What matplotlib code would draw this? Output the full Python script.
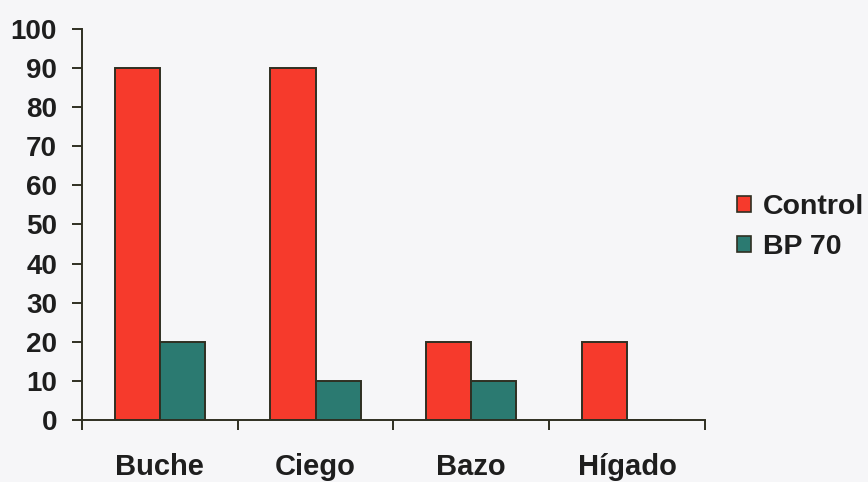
import numpy as np
import matplotlib.pyplot as plt
from matplotlib.patches import Patch

# datos
categorias = ['Buche', 'Ciego', 'Bazo', 'Hígado']
control = [90, 90, 20, 20]
bp70 = [20, 10, 10, 0]
series = ['Control', 'BP 70']

color_control = '#f63a2c'
color_bp = '#2b7a71'
borde = '#2f2f22'
texto = '#1e1e1e'
fondo = '#f6f6f8'

plt.rcParams['font.family'] = ['Liberation Sans', 'DejaVu Sans']
plt.rcParams['font.weight'] = 'bold'

fig = plt.figure(figsize=(8.68, 4.82), dpi=100, facecolor=fondo)
ax = fig.add_axes([0.0945, 0.1286, 0.7175, 0.8114], facecolor=fondo)

x = np.arange(len(categorias)) + 0.5
ancho = 0.29
ax.bar(x - ancho / 2, control, ancho, color=color_control, edgecolor=borde, linewidth=1.4)
ax.bar(x + ancho / 2, bp70, ancho, color=color_bp, edgecolor=borde, linewidth=1.4)

ax.set_xlim(0, len(categorias))
ax.set_ylim(0, 100)
ax.set_yticks(np.arange(0, 101, 10))
ax.set_xticks(np.arange(0, len(categorias) + 1))
ax.set_xticklabels([])
ax.set_xticks(x, minor=True)
ax.set_xticklabels(categorias, minor=True)

ax.tick_params(axis='y', direction='out', length=7, width=1.4, color=borde,
               pad=11, labelsize=20, labelcolor=texto)
ax.tick_params(axis='x', which='major', direction='out', length=7, width=1.4, color=borde)
ax.tick_params(axis='x', which='minor', length=0, pad=24, labelsize=21, labelcolor=texto)
for lab in ax.get_yticklabels() + ax.get_xticklabels(minor=True):
    lab.set_fontweight('bold')

for s in ['top', 'right']:
    ax.spines[s].set_visible(False)
for s in ['left', 'bottom']:
    ax.spines[s].set_color(borde)
    ax.spines[s].set_linewidth(1.4)

handles = [Patch(facecolor=color_control, edgecolor=borde, linewidth=1.2),
           Patch(facecolor=color_bp, edgecolor=borde, linewidth=1.2)]
leg = fig.legend(handles, series, loc='center left', bbox_to_anchor=(0.849, 0.529),
                 frameon=False, borderpad=0, borderaxespad=0,
                 handlelength=0.5, handleheight=0.5, handletextpad=0.42,
                 labelspacing=0.5, prop={'size': 20.5, 'weight': 'bold'})
for t in leg.get_texts():
    t.set_color(texto)

fig.savefig('out.png', dpi=100, facecolor=fondo)
